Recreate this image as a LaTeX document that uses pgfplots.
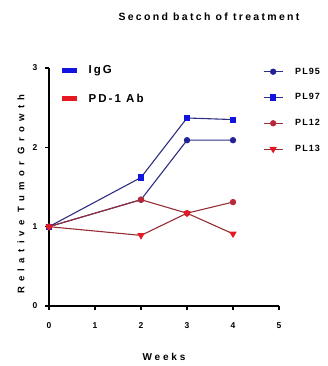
\documentclass[border=0pt]{standalone}
\usepackage{pgfplots}
\pgfplotsset{compat=1.18}
\usepackage{fontspec}
\setmainfont{Liberation Sans}
\newfontfamily\titlef[LetterSpace=22]{Liberation Sans}
\newfontfamily\ylabf[LetterSpace=56]{Liberation Sans}
\newfontfamily\xlabf[LetterSpace=28]{Liberation Sans}
\newfontfamily\legf[LetterSpace=18]{Liberation Sans}
\newfontfamily\rlegf[LetterSpace=12]{Liberation Sans}
\newfontfamily\tickf[LetterSpace=0]{Liberation Sans}
\definecolor{navyb}{RGB}{35,35,150}
\definecolor{blueb}{RGB}{20,20,225}
\definecolor{dred}{RGB}{185,40,55}
\definecolor{bred}{RGB}{230,25,35}
\definecolor{lnb}{RGB}{45,45,130}
\definecolor{lnr}{RGB}{150,45,55}
\begin{document}
\begin{tikzpicture}
\begin{scope}
\clip (0pt,0pt) rectangle (328pt,-366pt);
\begin{axis}[
  at={(49pt,-306pt)}, anchor=origin,
  scale only axis, width=230pt, height=238pt,
  xmin=0, xmax=5, ymin=0, ymax=3,
  axis lines=left, axis line style={-, line width=1.4pt},
  xtick={0,1,2,3,4,5}, ytick={0,1,2,3},
  tick align=outside, major tick length=4pt,
  tick style={line width=1.1pt, black},
  /pgf/number format/assume math mode=true,
  ticklabel style={font=\tickf\bfseries\fontsize{8.5}{9}\selectfont},
  xticklabel style={yshift=-9pt},
  yticklabel style={xshift=-4pt},
  clip=false,
  legend cell align=left,
  legend image code/.code={\draw[#1] (0pt,0pt) -- (19pt,0pt); \draw[#1, mark repeat=2, mark phase=2] plot coordinates {(0pt,0pt) (9.5pt,0pt) (19pt,0pt)}; \path (29pt,0pt);},
  legend style={at={(rel axis cs:0.93,1.01)}, anchor=north west, draw=none, fill=none,
    font=\rlegf\bfseries\fontsize{9}{10}\selectfont, row sep=14pt, inner sep=0pt},
]
\addplot[lnb, line width=1.1pt, mark=*, mark size=2.6pt, mark options={navyb, solid}] coordinates {(0,1.0) (2,1.34) (3,2.09) (4,2.09)};
\addlegendentry{PL95}
\addplot[lnb, line width=1.1pt, mark=square*, mark size=2.5pt, mark options={blueb, solid}] coordinates {(0,1.0) (2,1.62) (3,2.37) (4,2.35)};
\addlegendentry{PL97}
\addplot[lnr, line width=1.1pt, mark=*, mark size=2.6pt, mark options={dred, solid}] coordinates {(0,1.0) (2,1.34) (3,1.17) (4,1.31)};
\addlegendentry{PL12}
\addplot[lnr, line width=1.1pt, mark=triangle*, mark size=3.2pt, mark options={bred, solid, rotate=180}] coordinates {(0,1.0) (2,0.89) (3,1.17) (4,0.91)};
\addlegendentry{PL13}
\end{axis}
\begin{axis}[
  at={(49pt,-306pt)}, anchor=origin,
  scale only axis, width=230pt, height=238pt,
  xmin=0, xmax=5, ymin=0, ymax=3, hide axis,
  legend cell align=left,
  legend image code/.code={\draw[#1] (0pt,0pt) -- (15pt,0pt); \path (22pt,0pt);},
  legend style={at={(rel axis cs:0.045,1.02)}, anchor=north west, draw=none, fill=none,
    font=\legf\bfseries\fontsize{11.5}{12}\selectfont, row sep=15pt, inner sep=0pt},
]
\addlegendimage{blueb, line width=5pt}
\addlegendentry{IgG}
\addlegendimage{bred, line width=5pt}
\addlegendentry{PD-1 Ab}
\end{axis}
\node[font=\titlef\bfseries\fontsize{10.5}{11}\selectfont] at (209pt,-17pt) {Second batch of treatment};
\node[font=\ylabf\bfseries\fontsize{9.5}{10}\selectfont, rotate=90] at (21pt,-194pt) {Relative Tumor Growth};
\node[font=\xlabf\bfseries\fontsize{10}{11}\selectfont] at (164pt,-357pt) {Weeks};
\end{scope}
\pgfresetboundingbox
\path[use as bounding box] (0pt,0pt) rectangle (328pt,-366pt);
\end{tikzpicture}
\end{document}
